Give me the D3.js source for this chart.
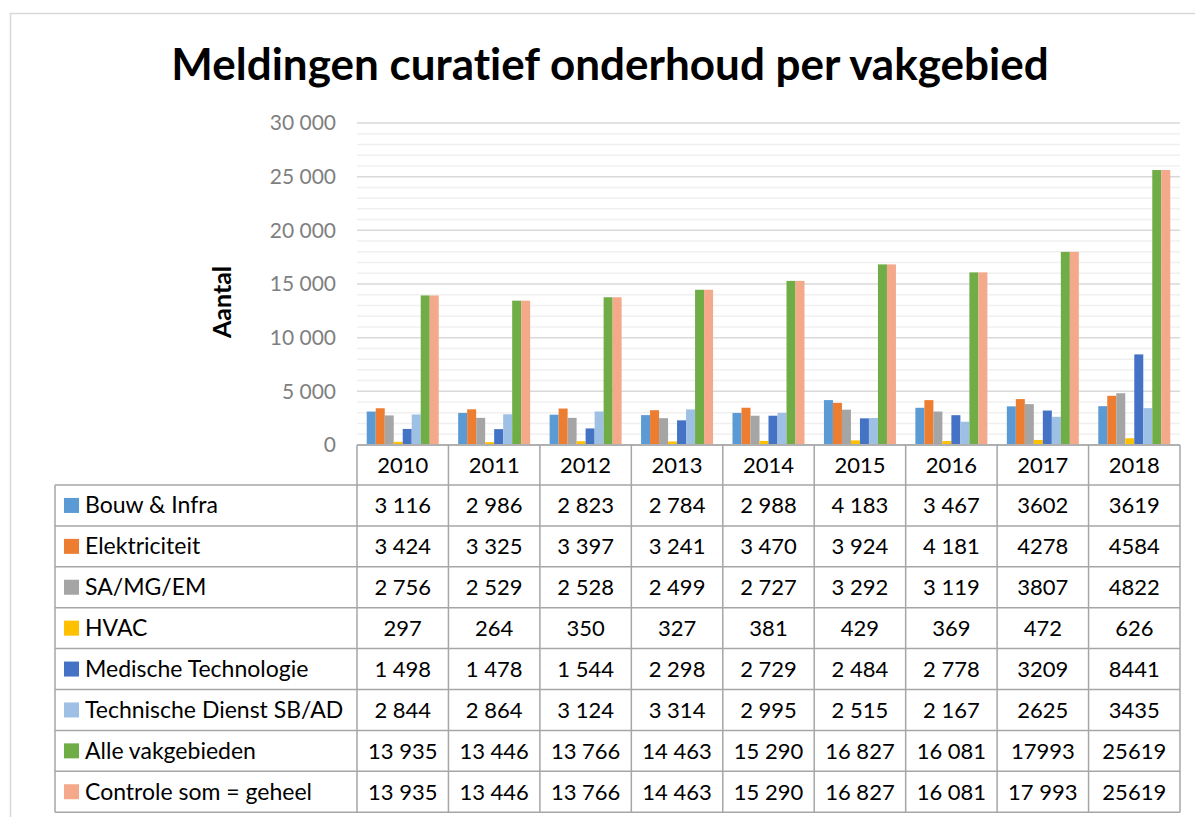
<!DOCTYPE html>
<html>
<head>
<meta charset="utf-8">
<script src="https://cdn.jsdelivr.net/npm/d3@7"></script>
<style>
  body { margin: 0; background: #fff; }
  svg { display: block; font-family: Lato, "Open Sans", sans-serif; font-variant-ligatures: none; }
</style>
</head>
<body>
<div id="chart"></div>
<script>
var years = ["2010", "2011", "2012", "2013", "2014", "2015", "2016", "2017", "2018"];
var seriesNames = ["Bouw & Infra", "Elektriciteit", "SA/MG/EM", "HVAC", "Medische Technologie",
  "Technische Dienst SB/AD", "Alle vakgebieden", "Controle som = geheel"];
var colorPool = ["#5B9BD5", "#ED7D31", "#A5A5A5", "#FFC000", "#4472C4", "#9DC0E4", "#70AD47", "#F3A98A"];

var bouwInfra     = [3116, 2986, 2823, 2784, 2988, 4183, 3467, 3602, 3619];
var elektriciteit = [3424, 3325, 3397, 3241, 3470, 3924, 4181, 4278, 4584];
var saMgEm        = [2756, 2529, 2528, 2499, 2727, 3292, 3119, 3807, 4822];
var hvac          = [297, 264, 350, 327, 381, 429, 369, 472, 626];
var medTech       = [1498, 1478, 1544, 2298, 2729, 2484, 2778, 3209, 8441];
var techDienst    = [2844, 2864, 3124, 3314, 2995, 2515, 2167, 2625, 3435];
var alleVak       = [13935, 13446, 13766, 14463, 15290, 16827, 16081, 17993, 25619];
var controleSom   = [13935, 13446, 13766, 14463, 15290, 16827, 16081, 17993, 25619];
var seriesValues = [bouwInfra, elektriciteit, saMgEm, hvac, medTech, techDienst, alleVak, controleSom];

var yTicks = [0, 5000, 10000, 15000, 20000, 25000, 30000];
// the source table writes these cells without a thousands space
var plainYears = ["2017", "2018"];
var spacedExceptions = [["Controle som = geheel", "2017"]];

var width = 1195, height = 817;
var plotLeft = 357, plotRight = 1180, plotTop = 123, plotBottom = 445;
var rowH = 40.9, headerBottom = 485, tableLeft = 55;

var locale = d3.formatLocale({decimal: ",", thousands: " ", grouping: [3], currency: ["", ""]});
var fmtSpaced = locale.format(",d");

function cellText(si, yi) {
  var v = seriesValues[si][yi];
  var name = seriesNames[si], yr = years[yi];
  var exc = spacedExceptions.some(function(e) { return e[0] === name && e[1] === yr; });
  if (plainYears.indexOf(yr) >= 0 && !exc) return String(v);
  return fmtSpaced(v);
}

var svg = d3.select("#chart").append("svg")
  .attr("width", width)
  .attr("height", height);

// chart frame
svg.append("rect")
  .attr("x", 10.5).attr("y", 13.5)
  .attr("width", 1200).attr("height", 830)
  .attr("fill", "#fff")
  .attr("stroke", "#d9d9d9")
  .attr("stroke-width", 1.5);

// title
svg.append("text")
  .attr("x", 610).attr("y", 80)
  .attr("text-anchor", "middle")
  .attr("font-size", "44px")
  .attr("font-weight", "bold")
  .attr("fill", "#000")
  .text("Meldingen curatief onderhoud per vakgebied");

var x = d3.scaleBand().domain(years).range([plotLeft, plotRight]);
var xInner = d3.scaleBand().domain(seriesNames).range([0, x.bandwidth()]).paddingOuter(1.08);
var y = d3.scaleLinear().domain([0, 30000]).range([plotBottom, plotTop]);

// minor and major gridlines
svg.append("g")
  .selectAll("line")
  .data(d3.range(1000, 30001, 1000).filter(function(v) { return v % 5000 !== 0; }))
  .enter().append("line")
  .attr("x1", plotLeft).attr("x2", plotRight)
  .attr("y1", function(d) { return y(d); }).attr("y2", function(d) { return y(d); })
  .attr("stroke", "#f0f0f0").attr("stroke-width", 1.5);

svg.append("g")
  .selectAll("line")
  .data(yTicks.slice(1))
  .enter().append("line")
  .attr("x1", plotLeft).attr("x2", plotRight)
  .attr("y1", function(d) { return y(d); }).attr("y2", function(d) { return y(d); })
  .attr("stroke", "#d9d9d9").attr("stroke-width", 1.5);

// y axis labels
var yAxis = d3.axisLeft(y).tickValues(yTicks).tickFormat(fmtSpaced).tickSize(0).tickPadding(21);
var yg = svg.append("g")
  .attr("transform", "translate(" + plotLeft + ",0)")
  .call(yAxis);
yg.select(".domain").remove();
yg.selectAll("text")
  .attr("font-family", "Lato, 'Open Sans', sans-serif")
  .attr("font-size", "21px")
  .attr("fill", "#7f7f7f");

svg.append("text")
  .attr("transform", "translate(231,302) rotate(-90)")
  .attr("text-anchor", "middle")
  .attr("font-size", "25px")
  .attr("font-weight", "bold")
  .text("Aantal");

// bars
var groups = svg.selectAll("g.serie")
  .data(seriesValues)
  .enter().append("g")
  .attr("class", "serie")
  .style("fill", function(d, i) { return colorPool[i]; });

groups.selectAll("rect")
  .data(function(d, i) { return d.map(function(v, j) { return {s: seriesNames[i], yr: years[j], v: v}; }); })
  .enter().append("rect")
  .attr("x", function(d) { return x(d.yr) + xInner(d.s); })
  .attr("y", function(d) { return y(d.v); })
  .attr("width", xInner.bandwidth())
  .attr("height", function(d) { return y(0) - y(d.v); });

// data table
var tableBottom = headerBottom + rowH * seriesNames.length;
var grid = svg.append("g").attr("stroke", "#a6a6a6").attr("stroke-width", 1.5);

grid.append("line")
  .attr("x1", plotLeft).attr("x2", plotRight)
  .attr("y1", plotBottom).attr("y2", plotBottom)
  .attr("stroke", "#b0b0b0").attr("stroke-width", 2);

d3.range(seriesNames.length + 1).forEach(function(i) {
  var yy = headerBottom + i * rowH;
  grid.append("line")
    .attr("x1", tableLeft).attr("x2", plotRight)
    .attr("y1", yy).attr("y2", yy);
});

grid.append("line")
  .attr("x1", tableLeft).attr("x2", tableLeft)
  .attr("y1", headerBottom).attr("y2", tableBottom);

years.concat(["end"]).forEach(function(yr, i) {
  var xx = plotLeft + i * x.step();
  grid.append("line")
    .attr("x1", xx).attr("x2", xx)
    .attr("y1", plotBottom).attr("y2", tableBottom);
});

// year header
svg.append("g")
  .selectAll("text")
  .data(years)
  .enter().append("text")
  .attr("x", function(d) { return x(d) + x.bandwidth() / 2; })
  .attr("y", plotBottom + 28)
  .attr("text-anchor", "middle")
  .attr("font-size", "22px")
  .attr("fill", "#000")
  .text(function(d) { return d; });

// rows
var rows = svg.selectAll("g.row")
  .data(seriesNames)
  .enter().append("g")
  .attr("class", "row")
  .attr("transform", function(d, i) { return "translate(0," + (headerBottom + i * rowH) + ")"; });

rows.append("rect")
  .attr("x", 64)
  .attr("y", rowH / 2 - 7.5)
  .attr("width", 15).attr("height", 15)
  .attr("fill", function(d, i) { return colorPool[i]; });

rows.append("text")
  .attr("x", 85)
  .attr("y", rowH / 2 + 8)
  .attr("font-size", "23px")
  .attr("fill", "#000")
  .text(function(d) { return d; });

rows.each(function(name, si) {
  d3.select(this).selectAll("text.cell")
    .data(years)
    .enter().append("text")
    .attr("class", "cell")
    .attr("x", function(d) { return x(d) + x.bandwidth() / 2; })
    .attr("y", rowH / 2 + 8)
    .attr("text-anchor", "middle")
    .attr("font-size", "22px")
    .attr("fill", "#000")
    .text(function(d, yi) { return cellText(si, yi); });
});
</script>
</body>
</html>
